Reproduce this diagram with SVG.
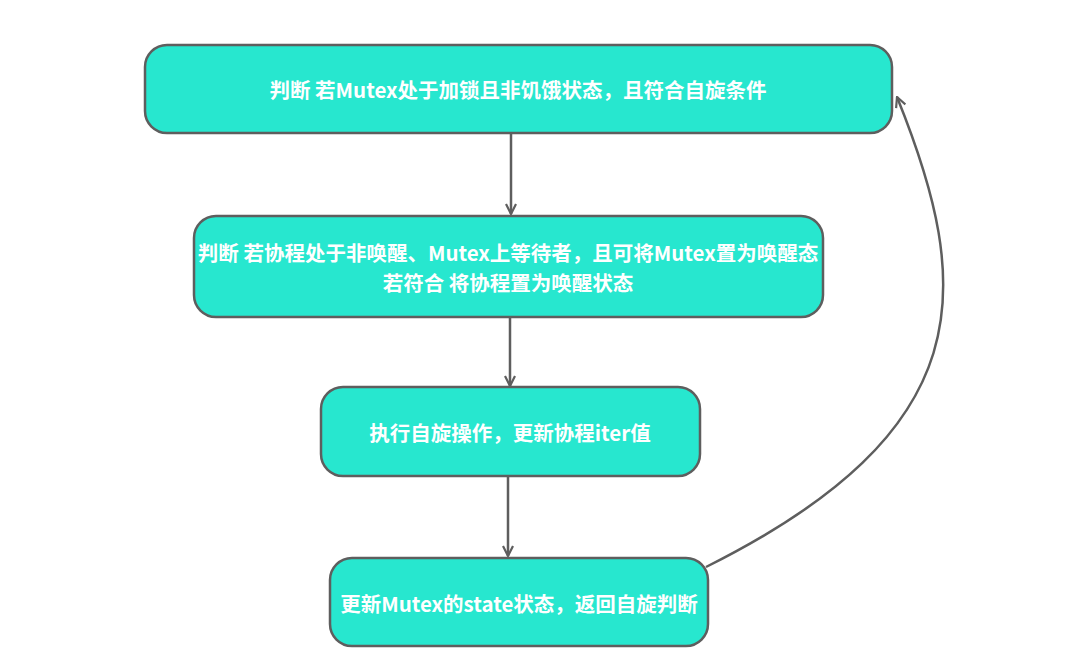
<svg xmlns="http://www.w3.org/2000/svg" width="1080" height="664" viewBox="0 0 1080 664">
<style>
.box{fill:#27e7cf;stroke:#5e5e5e;stroke-width:2.5}
.t{font-family:"Noto Sans CJK SC","Noto Sans",sans-serif;font-weight:bold;font-size:20.5px;fill:#ffffff;text-anchor:middle;dominant-baseline:central}
.c{fill:none;stroke:#5e5e5e;stroke-width:2.5}
</style>
<defs>
<marker id="ah" viewBox="0 0 12 12" refX="11" refY="6" markerWidth="12" markerHeight="12" markerUnits="userSpaceOnUse" orient="auto">
<path d="M1,1 L11,6 L1,11" fill="none" stroke="#5e5e5e" stroke-width="2.2"/>
</marker>
</defs>
<rect width="1080" height="664" fill="#ffffff"/>
<g id="connectors">
<path class="c" d="M511,134 L511,214" marker-end="url(#ah)"/>
<path class="c" d="M510,318 L510,386" marker-end="url(#ah)"/>
<path class="c" d="M508,477 L508,556" marker-end="url(#ah)"/>
<path class="c" d="M706,567 C980,430 975,290 897,97" marker-end="url(#ah)"/>
</g>
<g id="node1">
<rect class="box" x="145" y="45" width="747" height="88" rx="22"/>
<text class="t" x="518" y="89">判断 若Mutex处于加锁且非饥饿状态，且符合自旋条件</text>
</g>
<g id="node2">
<rect class="box" x="194" y="216" width="629" height="101" rx="22"/>
<text class="t" x="508" y="252">判断 若协程处于非唤醒、Mutex上等待者，且可将Mutex置为唤醒态</text>
<text class="t" x="508" y="282">若符合 将协程置为唤醒状态</text>
</g>
<g id="node3">
<rect class="box" x="321" y="387" width="379" height="89" rx="22"/>
<text class="t" x="510" y="432">执行自旋操作，更新协程iter值</text>
</g>
<g id="node4">
<rect class="box" x="330" y="558" width="378" height="88" rx="22"/>
<text class="t" x="519" y="603">更新Mutex的state状态，返回自旋判断</text>
</g>
</svg>
